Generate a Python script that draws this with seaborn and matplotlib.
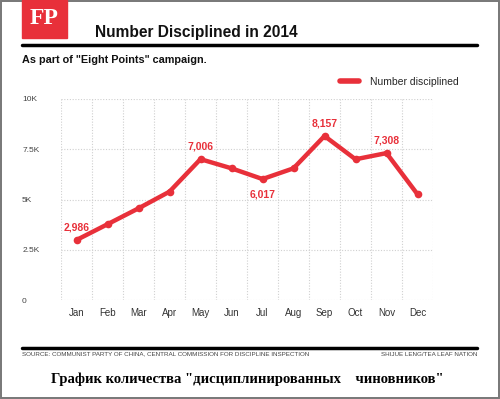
import matplotlib
import numpy as np
import pandas as pd
import seaborn as sns
from matplotlib import pyplot as plt
from matplotlib.patches import Rectangle

matplotlib.use("Agg")

months = ["Jan", "Feb", "Mar", "Apr", "May", "Jun", "Jul", "Aug", "Sep", "Oct", "Nov", "Dec"]
disciplined = [2986, 3770, 4560, 5390, 7006, 6550, 6017, 6550, 8157, 7000, 7308, 5260]
labelled = {"Jan": "above", "May": "above", "Jul": "below", "Sep": "above", "Nov": "above"}
y_ticks = [0, 2500, 5000, 7500, 10000]
y_tick_labels = ["0", "2.5K", "5K", "7.5K", "10K"]

RED = "#e8303a"


def main():
    sns.set_theme(style="white")
    plt.rcParams["font.family"] = ["Liberation Sans", "DejaVu Sans"]

    df = pd.DataFrame({"pos": np.arange(len(months)), "month": months, "value": disciplined})

    fig = plt.figure(figsize=(5, 3.99), dpi=100)
    ax = fig.add_axes([0.122, 0.248, 0.744, 0.504])

    sns.lineplot(data=df, x="pos", y="value", ax=ax, color=RED, linewidth=3.2,
                 marker="o", markersize=5.5, markeredgewidth=0, label="Number disciplined")

    for _, row in df.iterrows():
        where = labelled.get(row["month"])
        if where is None:
            continue
        dy = 9 if where == "above" else -11
        ax.annotate(f"{row['value']:,}", (row["pos"], row["value"]), xytext=(0, dy),
                    textcoords="offset points", ha="center", va="center",
                    color=RED, fontsize=7.5, fontweight="bold")

    ax.set_xlim(-0.5, len(months) - 0.5)
    ax.set_ylim(0, 10000)
    ax.set_xticks(df["pos"])
    ax.set_xticklabels(months, fontsize=7, color="#333333")
    ax.set_xticks(np.arange(len(months) + 1) - 0.5, minor=True)
    ax.set_yticks(y_ticks)
    ax.set_yticklabels(y_tick_labels, fontsize=6, color="#444444", ha="left")
    ax.tick_params(axis="y", pad=28, length=0)
    ax.tick_params(axis="x", which="both", length=0, pad=6)
    ax.grid(axis="y", which="major", linestyle=(0, (1, 1.5)), color="#d0d0d0", linewidth=0.8)
    ax.grid(axis="x", which="minor", linestyle=(0, (1, 1.5)), color="#d0d0d0", linewidth=0.8)
    ax.grid(axis="x", which="major", visible=False)
    for s in ax.spines.values():
        s.set_visible(False)
    ax.set_xlabel("")
    ax.set_ylabel("")

    leg = ax.legend(loc="lower left", bbox_to_anchor=(0.74, 1.04), frameon=False,
                    fontsize=7.5, handlelength=1.8, borderaxespad=0, handletextpad=1.0)
    for line in leg.get_lines():
        line.set_marker("")
        line.set_linewidth(4)

    # header
    fig.patches.append(Rectangle((22 / 500, 1 - 38 / 399), 45 / 500, 38 / 399,
                                 transform=fig.transFigure, color=RED, zorder=3))
    fig.text(44.5 / 500, 1 - 19 / 399, "FP", color="white", fontsize=17, fontweight="bold",
             family=["Liberation Serif", "DejaVu Serif"], ha="center", va="center", zorder=4)
    fig.text(95 / 500, 1 - 33 / 399, "Number Disciplined in 2014", fontsize=11.2,
             fontweight="bold", ha="left", va="center", color="#111111")
    fig.add_artist(plt.Line2D([22 / 500, 477 / 500], [1 - 45 / 399] * 2,
                              transform=fig.transFigure, color="black", linewidth=2.5))
    fig.text(22 / 500, 1 - 60 / 399, 'As part of "Eight Points" campaign.', fontsize=7.8,
             fontweight="bold", ha="left", va="center", color="#111111")

    # footer
    fig.add_artist(plt.Line2D([22 / 500, 477 / 500], [1 - 348 / 399] * 2,
                              transform=fig.transFigure, color="black", linewidth=2.5))
    fig.text(22 / 500, 1 - 354 / 399,
             "SOURCE: COMMUNIST PARTY OF CHINA, CENTRAL COMMISSION FOR DISCIPLINE INSPECTION",
             fontsize=4.5, ha="left", va="center", color="#444444")
    fig.text(477 / 500, 1 - 354 / 399, "SHIJUE LENG/TEA LEAF NATION", fontsize=4.5,
             ha="right", va="center", color="#444444")
    fig.text(247 / 500, 1 - 379 / 399, 'График количества "дисциплинированных    чиновников"',
             fontsize=10.5, fontweight="bold", family=["Liberation Serif", "DejaVu Serif"],
             ha="center", va="center", color="black")

    # outer frame
    fig.patches.append(Rectangle((0.002, 0.002), 0.996, 0.996, transform=fig.transFigure,
                                 fill=False, edgecolor="#777777", linewidth=1.4))

    fig.savefig("out.png", dpi=100)


if __name__ == "__main__":
    main()
